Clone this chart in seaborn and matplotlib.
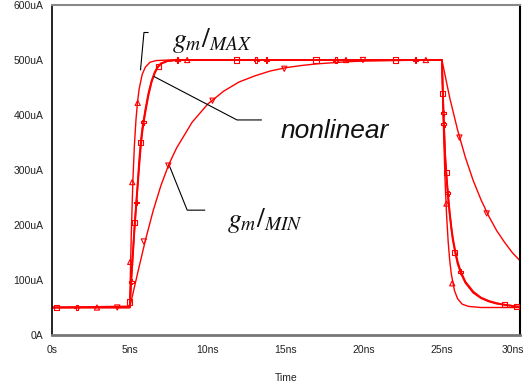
# Transient response of the output current for gm/MAX, nonlinear and gm/MIN

import pandas as pd
import numpy as np
import matplotlib
matplotlib.use("Agg")
import matplotlib.pyplot as plt
import matplotlib.transforms as mtransforms
import seaborn as sns

# Time in ns, current in uA

# gm/MAX trace (triangles)
fast_t = [0.0, 5.0, 5.05, 5.1, 5.2, 5.3, 5.4, 5.5, 5.6, 5.8, 6.0, 6.3, 6.7, 7.5,
          25.0, 25.1, 25.2, 25.3, 25.4, 25.5, 25.6, 25.8, 26.0, 26.3, 26.7, 27.5, 30.0]
fast_i = [50, 50, 124, 185, 280, 346, 392, 424, 447, 474, 487, 496, 499, 500,
          500, 373, 281, 216, 169, 135, 111, 81, 66, 56, 52, 50, 50]
fast_mk_t = [2.9, 5.03, 5.16, 5.51, 8.68, 18.85, 23.97, 25.29, 25.66]
fast_mk_i = [50, 133, 278, 422, 500, 500, 500, 239, 94]

# nonlinear trace (squares)
nla_t = [0.0, 5.0, 5.05, 5.1, 5.2, 5.3, 5.4, 5.5, 5.6, 5.7, 5.8, 5.9, 6.0, 6.2, 6.4, 6.6,
         6.8, 7.0, 7.4, 8.0,
         25.0, 25.05, 25.1, 25.2, 25.3, 25.4, 25.5, 25.6, 25.7, 25.85, 26.0, 26.2, 26.5,
         27.0, 27.5, 28.0, 28.5, 29.0, 29.5, 30.0]
nla_i = [50, 52, 80, 105, 150, 195, 235, 272, 315, 350, 375, 392, 410, 440, 462, 478,
         488, 494, 498, 500,
         500, 445, 400, 325, 282, 248, 218, 193, 172, 150, 130, 113, 95,
         77, 67, 61, 57, 55, 53, 51]
nla_mk_t = [0.3, 4.98, 5.33, 5.7, 6.83, 11.86, 16.93, 22.0, 25.06, 25.29, 25.82, 29.02, 29.8]
nla_mk_i = [50, 60, 205, 350, 488, 500, 500, 500, 439, 295, 150, 55, 52]

# nonlinear trace (stars)
nlb_t = [0.0, 5.0, 5.05, 5.1, 5.2, 5.3, 5.4, 5.5, 5.6, 5.7, 5.8, 5.9, 6.0, 6.2, 6.4, 6.6,
         6.8, 7.0, 7.4, 8.0,
         25.0, 25.05, 25.1, 25.2, 25.3, 25.4, 25.5, 25.6, 25.7, 25.85, 26.0, 26.2, 26.5,
         27.0, 27.5, 28.0, 28.5, 29.0, 29.5, 30.0]
nlb_i = [50, 50, 75, 100, 145, 190, 230, 268, 305, 340, 368, 388, 405, 436, 460, 476,
         487, 493, 498, 500,
         500, 450, 405, 330, 287, 252, 222, 197, 176, 153, 134, 116, 97,
         79, 68, 62, 58, 55, 53, 51]
nlb_mk_t = [1.6, 5.09, 5.44, 5.87, 8.06, 13.1, 13.76, 18.2, 23.3, 25.1, 25.12, 25.38, 26.19]
nlb_mk_i = [50, 97, 241, 387, 500, 500, 500, 500, 500, 403, 383, 258, 115]

# gm/MIN trace (down triangles)
slow_t = [0.0, 5.0, 5.5, 6.0, 6.5, 7.0, 7.5, 8.0, 9.0, 10.0, 11.0, 12.0, 13.0, 14.0,
          15.0, 16.0, 17.0, 18.0, 19.0, 20.0, 22.0, 24.0,
          25.0, 25.5, 26.0, 26.5, 27.0, 27.5, 28.0, 28.5, 29.0, 29.5, 30.0]
slow_i = [50, 50, 112, 172, 226, 272, 310, 340, 387, 420, 443, 460, 471, 480,
          486, 490, 493, 495, 497, 498, 499, 500,
          500, 431, 373, 323, 281, 246, 216, 190, 169, 150, 135]
slow_mk_t = [4.2, 5.9, 7.47, 10.3, 14.9, 19.94, 26.12, 27.87]
slow_mk_i = [50, 170, 308, 426, 484, 500, 359, 221]

x_ticks = [0, 5, 10, 15, 20, 25, 30]
x_labels = ['0s', '5ns', '10ns', '15ns', '20ns', '25ns', '30ns']
y_ticks = [0, 100, 200, 300, 400, 500, 600]
y_labels = ['0A', '100uA', '200uA', '300uA', '400uA', '500uA', '600uA']

# annotation leader lines (data coords)
max_lead_t = [5.69, 5.91, 6.18]
max_lead_i = [482, 550, 550]
nl_lead_t = [6.55, 11.87, 13.44]
nl_lead_i = [470, 391, 391]
min_lead_t = [7.52, 8.68, 9.81]
min_lead_i = [309, 227, 227]

sns.set_style('white')
plt.rcParams['font.family'] = ['Liberation Sans', 'DejaVu Sans']
plt.rcParams['mathtext.fontset'] = 'stix'

fig = plt.figure(figsize=(5.28, 3.85), dpi=100)
ax = fig.add_axes([51.7 / 528, 50 / 385, (520 - 51.7) / 528, 330 / 385])

red = '#ff0000'

traces = [
    (fast_t, fast_i, fast_mk_t, fast_mk_i, '^', 1.0),
    (nla_t, nla_i, nla_mk_t, nla_mk_i, 's', 1.3),
    (nlb_t, nlb_i, nlb_mk_t, nlb_mk_i, 'P', 1.3),
    (slow_t, slow_i, slow_mk_t, slow_mk_i, 'v', 1.0),
]
for t, i, mt, mi, mk, lw in traces:
    sns.lineplot(x=t, y=i, ax=ax, color=red, lw=lw, sort=False, estimator=None)
    sns.scatterplot(x=mt, y=mi, ax=ax, marker=mk, s=14, facecolor='none',
                    edgecolor=red, linewidth=0.8, zorder=3)

# leader lines
for lt, li in [(max_lead_t, max_lead_i), (nl_lead_t, nl_lead_i), (min_lead_t, min_lead_i)]:
    sns.lineplot(x=lt, y=li, ax=ax, color='black', lw=0.8, sort=False, estimator=None)

ax.text(7.7, 524, r'$g_m/_{MAX}$', fontsize=20, ha='left', va='baseline', color='#111111')
ax.text(11.2, 197, r'$g_m/_{MIN}$', fontsize=20, ha='left', va='baseline', color='#111111')
ax.text(14.65, 358, 'nonlinear', fontsize=19, style='italic', ha='left', va='baseline',
        color='#111111')

ax.set_xlim(0, 30)
ax.set_ylim(0, 600)
ax.set_xticks(x_ticks)
ax.set_xticklabels(x_labels)
ax.set_yticks(y_ticks)
ax.set_yticklabels(y_labels)
ax.tick_params(axis='both', direction='out', length=3, width=0.8, labelsize=7.5,
               colors='#222222', pad=3)
ax.tick_params(axis='x', pad=4)
ax.set_xlabel('Time', fontsize=7.5, color='#222222', labelpad=13)
ax.set_ylabel('')

# last tick label sits a little left so it stays inside the figure
last = ax.get_xticklabels()[-1]
last.set_transform(last.get_transform() + mtransforms.ScaledTranslation(-7 / 100, 0, fig.dpi_scale_trans))

ax.spines['left'].set_color('black')
ax.spines['left'].set_linewidth(1.2)
ax.spines['right'].set_color('black')
ax.spines['right'].set_linewidth(1.5)
ax.spines['top'].set_color('#888888')
ax.spines['top'].set_linewidth(1.5)
ax.spines['bottom'].set_color('#777777')
ax.spines['bottom'].set_linewidth(2)

fig.savefig('out.png', dpi=100)
